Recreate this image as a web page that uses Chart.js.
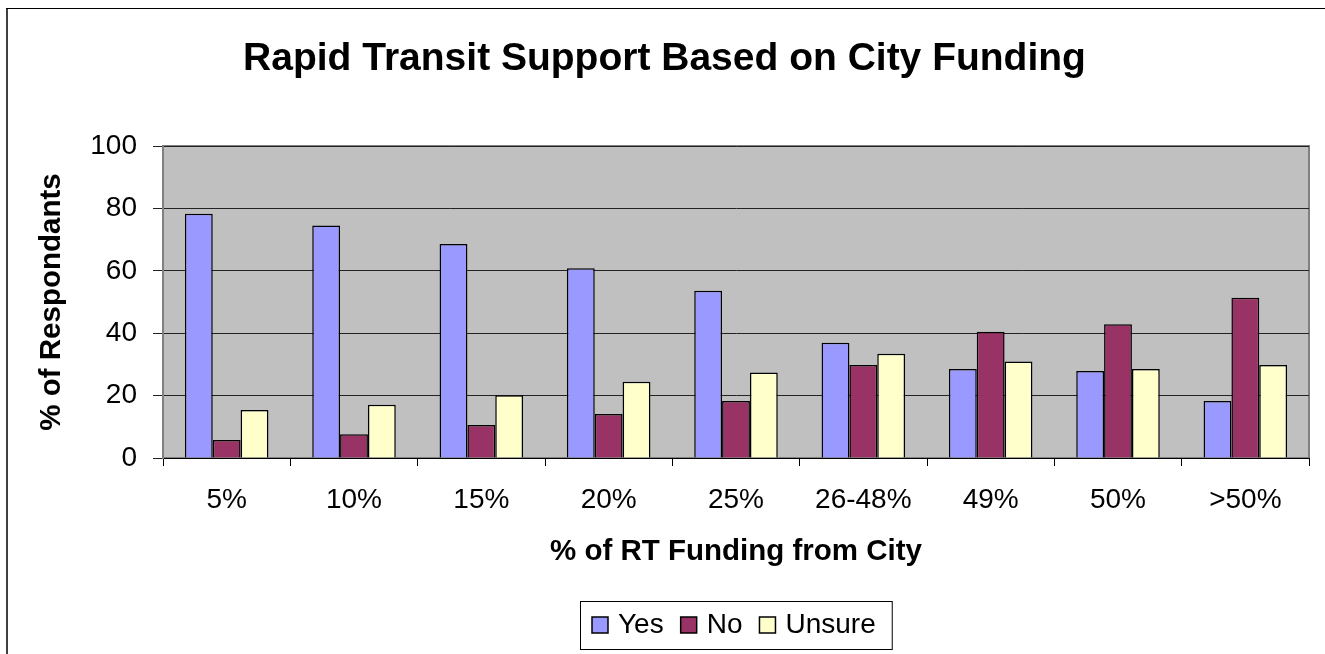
<!DOCTYPE html>
<html>
<head>
<meta charset="utf-8">
<script src="https://cdn.jsdelivr.net/npm/chart.js@4/dist/chart.umd.min.js"></script>
<style>
  html, body { margin: 0; padding: 0; background: #ffffff; }
  #wrap { width: 1325px; height: 654px; overflow: hidden; }
</style>
</head>
<body>
<div id="wrap"><canvas id="c" width="1325" height="654"></canvas></div>
<script>
const categories = ['5%', '10%', '15%', '20%', '25%', '26-48%', '49%', '50%', '>50%'];
const yesValues = [78.3, 74.5, 68.6, 60.8, 53.6, 36.9, 28.5, 27.9, 18.3];
const noValues = [5.8, 7.6, 10.6, 14.1, 18.3, 29.8, 40.5, 42.9, 51.4];
const unsureValues = [15.4, 17.1, 20.1, 24.4, 27.4, 33.4, 30.9, 28.5, 29.8];
const seriesNames = ['Yes', 'No', 'Unsure'];
const yTicks = [0, 20, 40, 60, 80, 100];
const titleText = 'Rapid Transit Support Based on City Funding';
const xTitle = '% of RT Funding from City';
const yTitle = '% of Respondants';

const FONT = '"Liberation Sans", Arial, Helvetica, sans-serif';
const colors = ['#9999FF', '#993366', '#FFFFCC'];

const frameAndPlot = {
  id: 'frameAndPlot',
  beforeDraw(chart) {
    const ctx = chart.ctx;
    const a = chart.chartArea;
    ctx.save();
    ctx.strokeStyle = '#404040';
    ctx.lineWidth = 2;
    ctx.beginPath();
    ctx.moveTo(7, 8);
    ctx.lineTo(7, chart.height + 5);
    ctx.stroke();
    ctx.strokeStyle = '#000000';
    ctx.lineWidth = 1;
    ctx.beginPath();
    ctx.moveTo(6, 8.5);
    ctx.lineTo(chart.width + 5, 8.5);
    ctx.stroke();
    ctx.fillStyle = '#C0C0C0';
    ctx.fillRect(a.left, a.top, a.right - a.left, a.bottom - a.top);
    ctx.strokeStyle = '#808080';
    ctx.lineWidth = 2;
    ctx.strokeRect(a.left, a.top, a.right - a.left, a.bottom - a.top);
    ctx.restore();
  }
};

const boxedLegend = {
  id: 'boxedLegend',
  afterDraw(chart) {
    const ctx = chart.ctx;
    const a = chart.chartArea;
    const xs = chart.scales.x;
    ctx.save();
    ctx.font = '28px ' + FONT;
    const sq = 16, gapText = 10, gapItem = 17, padL = 12, padR = 16, boxH = 48;
    const items = chart.data.datasets.map(d => ({ label: d.label, color: d.backgroundColor, w: ctx.measureText(d.label).width }));
    let total = padL + padR;
    items.forEach((it, i) => { total += sq + gapText + it.w + (i < items.length - 1 ? gapItem : 0); });
    const cx = (a.left + a.right) / 2;
    const left = Math.round(cx - total / 2);
    const top = Math.round(xs.bottom + 31);
    ctx.strokeStyle = '#000000';
    ctx.lineWidth = 1;
    ctx.strokeRect(left + 0.5, top + 0.5, total, boxH);
    const midY = top + boxH / 2;
    let x = left + padL;
    ctx.textBaseline = 'middle';
    ctx.textAlign = 'left';
    items.forEach((it) => {
      ctx.fillStyle = it.color;
      ctx.fillRect(x, midY - sq / 2, sq, sq);
      ctx.strokeStyle = '#000000';
      ctx.lineWidth = 1.5;
      ctx.strokeRect(x, midY - sq / 2, sq, sq);
      x += sq + gapText;
      ctx.fillStyle = '#000000';
      ctx.fillText(it.label, x, midY);
      x += it.w + gapItem;
    });
    ctx.restore();
  }
};

const values = [yesValues, noValues, unsureValues];

new Chart(document.getElementById('c'), {
  type: 'bar',
  data: {
    labels: categories,
    datasets: seriesNames.map((name, i) => ({
      label: name,
      data: values[i],
      backgroundColor: colors[i],
      borderColor: '#000000',
      borderWidth: 1.5,
      categoryPercentage: 0.656,
      barPercentage: 1.0
    }))
  },
  options: {
    responsive: false,
    animation: false,
    devicePixelRatio: 1,
    layout: { padding: { left: 20, right: 16, top: 0, bottom: 84 } },
    plugins: {
      legend: { display: false },
      tooltip: { enabled: false },
      title: {
        display: true,
        text: titleText,
        color: '#000000',
        font: { family: FONT, size: 39, weight: 'bold' },
        padding: { top: 35.6, bottom: 63.6 }
      }
    },
    scales: {
      x: {
        grid: { display: true, drawOnChartArea: false, drawTicks: true, tickLength: 8, color: '#000000', offset: true },
        border: { display: true, color: '#000000', width: 1 },
        ticks: { color: '#000000', font: { family: FONT, size: 28 }, padding: 17, autoSkip: false, maxRotation: 0 },
        title: { display: true, text: xTitle, color: '#000000', font: { family: FONT, size: 29.5, weight: 'bold' }, padding: { top: 1, bottom: 0 } }
      },
      y: {
        min: 0,
        max: 100,
        afterBuildTicks(scale) { scale.ticks = yTicks.map(v => ({ value: v })); },
        afterFit(scale) { scale.width = 143; },
        grid: { color: '#222222', lineWidth: 1, tickLength: 10, drawTicks: true },
        border: { display: true, color: '#808080', width: 2 },
        ticks: { color: '#000000', font: { family: FONT, size: 28 }, padding: 16 },
        title: { display: true, text: yTitle, color: '#000000', font: { family: FONT, size: 29.5, weight: 'bold' }, padding: { top: 14, bottom: 0 } }
      }
    }
  },
  plugins: [frameAndPlot, boxedLegend]
});
</script>
</body>
</html>
